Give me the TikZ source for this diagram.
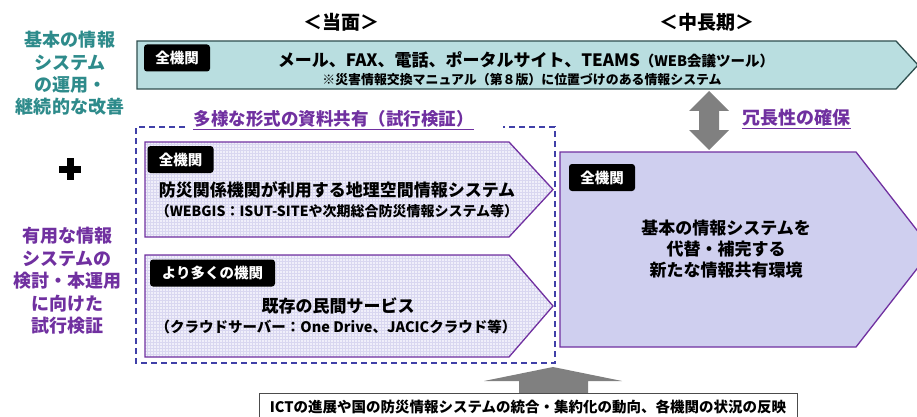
\documentclass[tikz,border=0pt]{standalone}
\usepackage{fontspec}
\setmainfont{Noto Sans CJK JP}
\usetikzlibrary{patterns}
\definecolor{bannerfill}{HTML}{B9DEE0}
\definecolor{bannerline}{HTML}{2F4F4F}
\definecolor{tealtxt}{HTML}{2E8B8B}
\definecolor{purp}{HTML}{7030A0}
\definecolor{dashc}{HTML}{4040A8}
\definecolor{lav}{HTML}{CFCFEF}
\definecolor{lavlight}{HTML}{F0EFFA}
\definecolor{lavgrid}{HTML}{D9D7F0}
\definecolor{arrowgray}{HTML}{808080}
\newcommand{\fs}[1]{\fontsize{#1}{#1}\selectfont}
\tikzset{
  lab/.style={fill=black, text=white, rounded corners=3pt, font=\bfseries\fs{14.5},
              minimum height=27, inner xsep=6, inner ysep=0, anchor=center},
  txt/.style={inner sep=0, align=center, font=\bfseries\fs{17}},
  smalltxt/.style={inner sep=0, align=center, font=\bfseries\fs{14}},
  shapebox/.style={line width=1.3pt},
}
\begin{document}
\begin{tikzpicture}[x=1pt,y=-1pt]
\useasboundingbox (0,0) rectangle (917,417);
\clip (0,0) rectangle (917,417);

% headings
\node[txt, font=\bfseries\fs{19}] (h1) at (341,22) {＜当面＞};
\node[txt, font=\bfseries\fs{19}] (h2) at (707,22) {＜中長期＞};

% left labels
\node[txt, text=tealtxt, font=\bfseries\fontsize{18}{22.3}\selectfont] (lt1) at (70,73.5)
  {基本の情報\\システム\\の運用・\\継続的な改善};
\node[txt, text=purp, font=\bfseries\fontsize{18}{22.5}\selectfont] (lt2) at (67,281)
  {有用な情報\\システムの\\検討・本運用\\に向けた\\試行検証};
\fill[black] (59,165.5) rectangle (81,172.5);
\fill[black] (66.5,158) rectangle (73.5,180);

% top banner
\draw[shapebox, draw=bannerline, fill=bannerfill]
  (137,41) -- (896,41) -- (918,65) -- (896,89) -- (137,89) -- cycle;
\node[lab, minimum width=66] (b0) at (177,58) {全機関};
\node[txt, font=\bfseries\fs{17}] (bt) at (526,60)
  {メール、FAX、電話、ポータルサイト、TEAMS{\fs{14.5}（WEB会議ツール）}};
\node[smalltxt, font=\bfseries\fs{12.9}] (bs) at (522,80)
  {※災害情報交換マニュアル（第８版）に位置づけのある情報システム};

% dashed group
\draw[dashc, line width=1.3pt, dash pattern=on 6pt off 4pt]
  (185,127) -- (136,127) -- (136,363) -- (555,363) -- (555,127) -- (503,127);
\node[txt, text=purp, font=\bfseries\fs{17.5}] (gt) at (333.5,119)
  {多様な形式の資料共有（試行検証）};
\draw[purp, line width=1pt] ([yshift=-1.5]gt.south west) -- ([yshift=-1.5]gt.south east);

% box 1
\draw[shapebox, draw=purp, preaction={fill=lavlight}, pattern=grid, pattern color=lavgrid]
  (145,142) -- (509,142) -- (553,189.5) -- (509,237) -- (145,237) -- cycle;
\node[lab, minimum width=66] (b1) at (180.5,159.5) {全機関};
\node[txt] (b1t) at (337,190) {防災関係機関が利用する地理空間情報システム};
\node[smalltxt] (b1s) at (337,211) {（WEBGIS：ISUT-SITEや次期総合防災情報システム等）};

% box 2
\draw[shapebox, draw=purp, preaction={fill=lavlight}, pattern=grid, pattern color=lavgrid]
  (145,255) -- (509,255) -- (553,306) -- (509,357) -- (145,357) -- cycle;
\node[lab, minimum width=125] (b2) at (212.5,273) {より多くの機関};
\node[txt] (b2t) at (338,306) {既存の民間サービス};
\node[smalltxt, font=\bfseries\fs{14.5}] (b2s) at (336,327) {（クラウドサーバー：One Drive、JACICクラウド等）};

% right box
\draw[shapebox, draw=purp, fill=lav]
  (560,152) -- (856,152) -- (932,249.5) -- (856,347) -- (560,347) -- cycle;
\node[lab, minimum width=66] (b3) at (602,177.5) {全機関};
\node[txt, font=\bfseries\fontsize{17}{21}\selectfont] (b3t) at (726,249)
  {基本の情報システムを\\代替・補完する\\新たな情報共有環境};

% double arrow
\fill[arrowgray] (709,91) -- (729,111) -- (719,111) -- (719,130) -- (729,130) -- (709,150)
  -- (689,130) -- (699,130) -- (699,111) -- (689,111) -- cycle;
\node[txt, text=purp, font=\bfseries\fs{18}] (red) at (796.5,118) {冗長性の確保};
\draw[purp, line width=1pt] ([yshift=-1.5]red.south west) -- ([yshift=-1.5]red.south east);

% bottom arrow and box
\fill[arrowgray] (553,367) -- (622,381) -- (588,381) -- (588,394) -- (519,394)
  -- (519,381) -- (484,381) -- cycle;
\draw[line width=1pt, draw=black!70, fill=white] (259,393) rectangle (797,430);
\node[txt, font=\bfseries\fs{14.5}] (bb) at (528,407)
  {ICTの進展や国の防災情報システムの統合・集約化の動向、各機関の状況の反映};
\end{tikzpicture}
\end{document}
